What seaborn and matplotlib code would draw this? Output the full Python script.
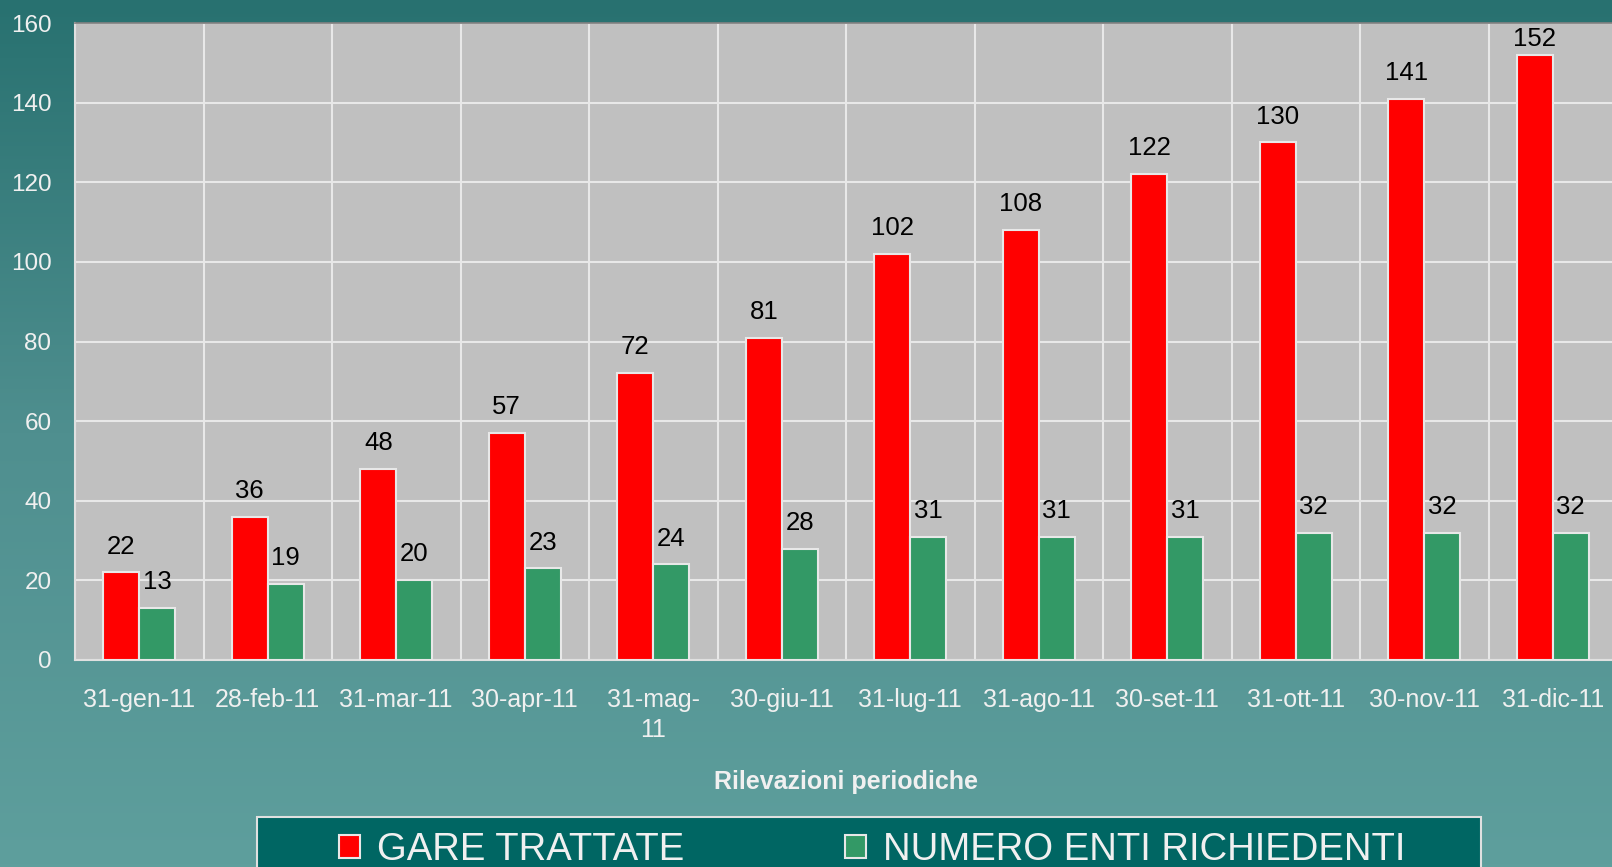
import numpy as np
import pandas as pd
import seaborn as sns
import matplotlib.pyplot as plt
from matplotlib.patches import Rectangle, Patch
from matplotlib.colors import LinearSegmentedColormap

# dati
date = ['31-gen-11', '28-feb-11', '31-mar-11', '30-apr-11', '31-mag-\n11', '30-giu-11',
        '31-lug-11', '31-ago-11', '30-set-11', '31-ott-11', '30-nov-11', '31-dic-11']
gare_trattate = [22, 36, 48, 57, 72, 81, 102, 108, 122, 130, 141, 152]
numero_enti = [13, 19, 20, 23, 24, 28, 31, 31, 31, 32, 32, 32]
serie = ['GARE TRATTATE', 'NUMERO ENTI RICHIEDENTI']
colori = ['#ff0000', '#339966']

df = pd.DataFrame({
    'data': date * 2,
    'serie': [serie[0]] * len(date) + [serie[1]] * len(date),
    'valore': gare_trattate + numero_enti,
})

sns.set_theme(style='white')
plt.rcParams['font.family'] = ['Liberation Sans', 'DejaVu Sans']
txt = '#f0f0f0'

fig = plt.figure(figsize=(16.12, 8.67), dpi=100)

# sfondo sfumato
bg = fig.add_axes([0, 0, 1, 1], zorder=-10)
cmap = LinearSegmentedColormap.from_list('teal', ['#287170', '#4f8f8f', '#5e9f9d'])
bg.imshow(np.linspace(0, 1, 256).reshape(-1, 1), aspect='auto', cmap=cmap, extent=[0, 1, 0, 1])
bg.axis('off')

ax = fig.add_axes([75 / 1612, 1 - 660 / 867, 1542 / 1612, (660 - 23) / 867])
sns.barplot(data=df, x='data', y='valore', hue='serie', palette=colori, width=0.56,
            edgecolor='#e8e8e8', linewidth=1.5, saturation=1, ax=ax, legend=False, zorder=3)

for cont in ax.containers:
    ax.bar_label(cont, padding=10, fontsize=18.5, color='black')
# l'ultima etichetta rossa e' schiacciata sotto il bordo superiore
for t in ax.texts:
    if t.get_text() == str(gare_trattate[-1]):
        t.xyann = (0, 3)

ax.set_facecolor('#c0c0c0')
ax.set_ylim(0, 160)
ax.set_xlim(-0.5, len(date) - 0.5)
ax.set_yticks(range(0, 161, 20))
ax.set_xticks(np.arange(-0.5, len(date), 1), minor=True)
ax.grid(axis='y', color='#e8e8e8', linewidth=1.5, zorder=0)
ax.grid(axis='x', which='minor', color='#e8e8e8', linewidth=1.5, zorder=0)
ax.tick_params(axis='x', which='major', length=0, pad=20, labelsize=18, labelcolor=txt)
ax.tick_params(axis='x', which='minor', length=8, width=1.5, color='#e0e0e0', direction='out')
ax.tick_params(axis='y', length=7, width=1.5, color='#e0e0e0', direction='out', labelsize=17.5,
               labelcolor=txt, pad=10)
for lab in ax.get_xticklabels():
    lab.set_linespacing(1.35)
ax.set_ylabel('')
ax.set_xlabel('Rilevazioni periodiche', fontsize=18, fontweight='bold', color=txt, labelpad=20)
for s in ['left', 'bottom']:
    ax.spines[s].set_color('#e0e0e0')
    ax.spines[s].set_linewidth(1.5)
ax.spines['top'].set_color('#808080')
ax.spines['right'].set_visible(False)

# legenda
fig.patches.append(Rectangle((257 / 1612, -0.05), (1481 - 257) / 1612, 0.05 + 1 - 817 / 867,
                             transform=fig.transFigure, facecolor='#006663', edgecolor='#e0e0e0',
                             linewidth=1.5, zorder=1))
handles = [Patch(facecolor=c, edgecolor='#e8e8e8', linewidth=1.5) for c in colori]
fig.legend(handles, serie, ncol=2, frameon=False, loc='center', bbox_to_anchor=(0.541, 1 - 850 / 867),
           prop={'size': 27.5}, labelcolor=txt, handlelength=0.55, handleheight=0.55,
           handletextpad=0.45, columnspacing=4.2)

fig.savefig('out.png', dpi=100)
